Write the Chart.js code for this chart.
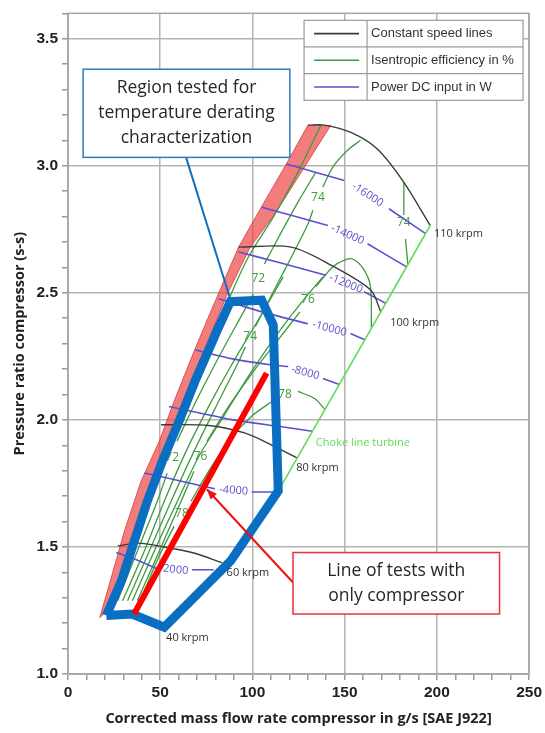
<!DOCTYPE html>
<html lang="en">
<head>
<meta charset="UTF-8">
<title>Compressor map</title>
<script src="https://cdn.jsdelivr.net/npm/chart.js@4.4.0/dist/chart.umd.min.js"></script>
<style>
    body { margin: 0; background: #fff; }
    #wrap { width: 545px; height: 733px; }
</style>
</head>
<body>
<div id="wrap"><canvas id="map" width="545" height="733"></canvas></div>
<script>
// axes
const xRange = [0, 250];
const yRange = [1.0, 3.6];

// constant speed lines, [mass flow g/s, pressure ratio]
const speed60 = [[27.0,1.504],[37.8,1.515],[52.2,1.500],[68.3,1.476],[83.5,1.438]];
const speed80 = [[50.4,1.981],[76.3,1.978],[96.1,1.948],[108.6,1.908],[124.3,1.850]];
const speed100 = [[92.5,2.680],[121.1,2.680],[142.6,2.609],[164.1,2.511],[169.6,2.425]];
const speed110 = [[130.1,3.160],[139.1,3.160],[153.4,3.131],[167.7,3.066],[182.1,2.935],[196.4,2.765]];
const speedLabels = [['40 krpm',53.2,1.144],['60 krpm',86.0,1.399],['80 krpm',123.7,1.811],['100 krpm',174.7,2.380],['110 krpm',198.4,2.733]];

// choke line turbine
const choke = [[114.0,1.720],[196.4,2.765]];

// surge band (left edge, right edge)
const surgeLeft = [[130.1,3.160],[118.3,3.006],[104.8,2.837],[92.5,2.680],[77.3,2.425],[68.3,2.269],[57.5,2.073],[49.5,1.916],[39.6,1.759],[30.6,1.563],[23.7,1.386],[17.2,1.222]];
const surgeRight = [[142.6,3.160],[126.5,2.975],[112.9,2.818],[98.8,2.680],[86.2,2.492],[78.0,2.347],[69.9,2.190],[61.8,2.033],[53.8,1.876],[45.2,1.719],[37.1,1.563],[29.0,1.406],[21.5,1.249]];

// isentropic efficiency contours (null = gap for label)
const eff70 = [[137.1,3.159],[124.7,2.975],[111.3,2.798],[97.8,2.641],[87.1,2.473],[77.4,2.308],[68.3,2.151],[59.1,1.994],[50.5,1.837],[42.5,1.680],[34.9,1.524],[28.0,1.367],[22.6,1.269]];
const eff72 = [[26.9,1.288],[38.7,1.504],[48.4,1.680],[53.8,1.790],null,[59.1,1.916],[69.9,2.080],[82.8,2.261],[95.2,2.425],[100.5,2.496],null,[106.5,2.614],[115.1,2.731],[124.7,2.857],[134.4,2.975]];
const eff73 = [[29.6,1.288],[41.4,1.484],[52.2,1.680],[64.0,1.876],[76.3,2.053],[88.2,2.210],[103.2,2.394],[116.7,2.563]];
const eff74 = [[32.3,1.288],[44.1,1.484],[55.9,1.680],[68.3,1.876],[81.7,2.073],[92.5,2.229],[96.2,2.288],null,[101.6,2.367],[111.3,2.504],[122.0,2.653],[130.1,2.771],[132.8,2.825],null,[138.2,2.916],[143.5,2.994],[151.6,3.061],[158.6,3.100]];
const eff75 = [[34.9,1.288],[46.8,1.484],[58.1,1.661],[71.0,1.857],[84.4,2.014],[97.8,2.171],[111.3,2.316],[124.7,2.445],[138.2,2.563]];
const eff76 = [[37.6,1.288],[49.5,1.484],[60.2,1.661],[68.3,1.798],null,[75.3,1.916],[87.1,2.053],[100.5,2.190],[114.0,2.316],[125.8,2.425],null,[134.4,2.524],[143.5,2.602],[150.0,2.629],[154.3,2.633],[160.2,2.594],[164.0,2.524],[164.5,2.359]];
const eff78 = [[139.3,2.041],[133.7,2.084],[124.7,2.112],null,[110.8,2.073],[99.5,2.014],[87.1,1.916],[76.3,1.798],[66.7,1.680],null,[57.5,1.582],[49.5,1.465],[41.4,1.327]];
const eff74b = [[182.1,2.935],[182.1,2.806],null,[183.0,2.712],[184.3,2.610]];
const effLabels = [['72',56.5,1.853],['72',103.2,2.555],['74',98.8,2.327],['74',135.5,2.873],['76',71.9,1.857],['76',130.1,2.473],['78',117.6,2.099],['78',61.8,1.633],['74',182.1,2.778]];

// power DC input contours
const pow16 = [[118.4,3.007],[149.8,2.942],null,[174.0,2.831],[193.9,2.733]];
const pow14 = [[105.0,2.837],[140.9,2.765],null,[162.4,2.693],[183.6,2.602]];
const pow12 = [[92.5,2.661],[115.0,2.618],[139.8,2.569],null,[160.6,2.504],[172.5,2.458]];
const pow10 = [[81.7,2.477],[104.8,2.426],[130.1,2.378],null,[153.2,2.340],[161.0,2.315]];
const pow8 = [[69.2,2.275],[88.7,2.241],[110.4,2.216],[119.4,2.210],null,[138.2,2.163],[147.2,2.139]];
const pow6 = [[54.8,2.053],[88.9,2.001],[114.0,1.975],[132.5,1.955]];
const pow4 = [[41.4,1.791],[71.0,1.743],[79.6,1.729],null,[99.6,1.716],[114.0,1.716]];
const pow2 = [[26.2,1.478],[38.7,1.445],[47.7,1.416],null,[67.2,1.410],[79.0,1.410]];
// [text, x, y, angle deg]
const powLabels = [['-16000',162.4,2.886,33],['-14000',151.6,2.729,24],['-12000',150.7,2.536,22],['-10000',141.8,2.359,15],['-8000',128.7,2.186,16],['-4000',89.8,1.722,4],['2000',58.4,1.410,6]];

// annotations
const testedRegion = [[20.8,1.230],[34.8,1.236],[52.2,1.184],[88.2,1.445],[114.0,1.720],[111.3,2.373],[105.0,2.471],[88.0,2.465],[80.6,2.347],[68.8,2.151],[60.2,1.994],[51.1,1.837],[43.0,1.680],[36.0,1.524],[29.0,1.367],[20.8,1.230]];
const testLine = [[35.8,1.236],[107.7,2.184]];
const regionCallout = [[64.0,3.033],[88.2,2.471]];
const testArrow = [[122.0,1.360],[75.3,1.727]];
const regionBox = [8.2, 3.033, 120.3, 3.380];
const regionText = ['Region tested for', 'temperature derating', 'characterization'];
const testsBox = [122.0, 1.236, 234.0, 1.478];
const testsText = ['Line of tests with', 'only compressor'];

const legendNames = ['Constant speed lines', 'Isentropic efficiency in %', 'Power DC input in W'];

const speedColor = '#3b3b3b';
const effColor = '#3f9a3f';
const powColor = '#5a50d0';
const chokeColor = '#62dc5a';
const regionColor = '#0a6fc2';
const legendColors = [speedColor, effColor, powColor];

const toXY = arr => arr.map(p => p ? {x: p[0], y: p[1]} : {x: null, y: null});

function lineSet(pts, color, width, order, tension) {
    return {
        data: toXY(pts),
        showLine: true,
        borderColor: color,
        borderWidth: width,
        pointRadius: 0,
        tension: tension || 0,
        fill: false,
        order: order
    };
}

const datasets = [
    {
        data: toXY(surgeLeft.concat(surgeRight.slice().reverse())),
        showLine: true,
        pointRadius: 0,
        borderColor: 'rgba(210,40,40,0.7)',
        borderWidth: 1,
        backgroundColor: 'rgba(238,70,70,0.7)',
        fill: 'shape',
        order: 20
    },
    lineSet(eff70, effColor, 1.3, 12, 0.3),
    lineSet(eff72, effColor, 1.3, 12, 0.3),
    lineSet(eff73, effColor, 1.3, 12, 0.3),
    lineSet(eff74, effColor, 1.3, 12, 0.3),
    lineSet(eff75, effColor, 1.3, 12, 0.3),
    lineSet(eff76, effColor, 1.3, 12, 0.3),
    lineSet(eff78, effColor, 1.3, 12, 0.3),
    lineSet(eff74b, effColor, 1.3, 12, 0.2),
    lineSet(pow16, powColor, 1.6, 11, 0.2),
    lineSet(pow14, powColor, 1.6, 11, 0.2),
    lineSet(pow12, powColor, 1.6, 11, 0.2),
    lineSet(pow10, powColor, 1.6, 11, 0.2),
    lineSet(pow8, powColor, 1.6, 11, 0.2),
    lineSet(pow6, powColor, 1.6, 11, 0.2),
    lineSet(pow4, powColor, 1.6, 11, 0.2),
    lineSet(pow2, powColor, 1.6, 11, 0.2),
    lineSet(speed60, speedColor, 1.4, 10, 0.3),
    lineSet(speed80, speedColor, 1.4, 10, 0.3),
    lineSet(speed100, speedColor, 1.4, 10, 0.3),
    lineSet(speed110, speedColor, 1.4, 10, 0.3),
    lineSet(choke, chokeColor, 1.6, 9, 0),
    Object.assign(lineSet(testedRegion, regionColor, 9, 4, 0), {borderJoinStyle: 'miter'}),
    lineSet(regionCallout, regionColor, 2, 3, 0),
    lineSet(testLine, '#ff0000', 6, 2, 0),
    Object.assign(lineSet(testArrow, '#ee1111', 2, 1, 0), {arrowHead: true})
];

function toPx(chart, x, y) {
    return [chart.scales.x.getPixelForValue(x), chart.scales.y.getPixelForValue(y)];
}

function drawBox(ctx, chart, box, lines, color) {
    const [x0, y0] = toPx(chart, box[0], box[3]);
    const [x1, y1] = toPx(chart, box[2], box[1]);
    ctx.fillStyle = '#fff';
    ctx.fillRect(x0, y0, x1 - x0, y1 - y0);
    ctx.strokeStyle = color;
    ctx.lineWidth = 1.5;
    ctx.strokeRect(x0, y0, x1 - x0, y1 - y0);
    ctx.fillStyle = '#262626';
    ctx.font = '17.5px "Open Sans"';
    ctx.textAlign = 'center';
    ctx.textBaseline = 'middle';
    const lh = 25;
    const cy = (y0 + y1) / 2 - (lines.length - 1) * lh / 2;
    lines.forEach((t, i) => ctx.fillText(t, (x0 + x1) / 2, cy + i * lh));
}

const overlay = {
    id: 'overlay',
    beforeDatasetsDraw(chart) {
        const {ctx, chartArea: a} = chart;
        ctx.save();
        ctx.strokeStyle = '#a6a6a6';
        ctx.lineWidth = 1.5;
        ctx.strokeRect(a.left, a.top, a.right - a.left, a.bottom - a.top);
        ctx.font = '12px "Open Sans"';
        ctx.fillStyle = effColor;
        ctx.textAlign = 'center';
        ctx.textBaseline = 'middle';
        effLabels.forEach(l => {
            const [x, y] = toPx(chart, l[1], l[2]);
            ctx.fillText(l[0], x, y);
        });
        ctx.restore();
    },
    afterDatasetsDraw(chart) {
        const {ctx, chartArea: a} = chart;
        ctx.save();
        // power labels
        ctx.font = '11px "Open Sans"';
        ctx.fillStyle = powColor;
        ctx.textAlign = 'center';
        ctx.textBaseline = 'middle';
        powLabels.forEach(l => {
            const [x, y] = toPx(chart, l[1], l[2]);
            ctx.save();
            ctx.translate(x, y);
            ctx.rotate(l[3] * Math.PI / 180);
            ctx.fillText(l[0], 0, 0);
            ctx.restore();
        });
        // speed labels
        ctx.fillStyle = '#333';
        ctx.textAlign = 'left';
        speedLabels.forEach(l => {
            const [x, y] = toPx(chart, l[1], l[2]);
            ctx.fillText(l[0], x, y);
        });
        // choke label
        ctx.fillStyle = chokeColor;
        const [cx, cy] = toPx(chart, 134.4, 1.909);
        ctx.fillText('Choke line turbine', cx, cy);

        // arrow heads
        chart.data.datasets.forEach((ds, i) => {
            if (!ds.arrowHead) return;
            const pts = chart.getDatasetMeta(i).data;
            const p1 = pts[pts.length - 2], p2 = pts[pts.length - 1];
            const ang = Math.atan2(p2.y - p1.y, p2.x - p1.x);
            ctx.fillStyle = ds.borderColor;
            ctx.beginPath();
            ctx.moveTo(p2.x, p2.y);
            ctx.lineTo(p2.x - 11 * Math.cos(ang - 0.4), p2.y - 11 * Math.sin(ang - 0.4));
            ctx.lineTo(p2.x - 11 * Math.cos(ang + 0.4), p2.y - 11 * Math.sin(ang + 0.4));
            ctx.closePath();
            ctx.fill();
        });

        drawBox(ctx, chart, regionBox, regionText, '#2e7bc4');
        drawBox(ctx, chart, testsBox, testsText, '#e8343a');

        // legend table
        const w = 219, h = 80, x0 = a.right - 225, y0 = a.top + 7, split = 63;
        ctx.fillStyle = '#fff';
        ctx.fillRect(x0, y0, w, h);
        ctx.strokeStyle = '#9a9a9a';
        ctx.lineWidth = 1.2;
        ctx.strokeRect(x0, y0, w, h);
        ctx.beginPath();
        ctx.moveTo(x0 + split, y0);
        ctx.lineTo(x0 + split, y0 + h);
        for (let r = 1; r < legendNames.length; r++) {
            ctx.moveTo(x0, y0 + r * h / 3);
            ctx.lineTo(x0 + w, y0 + r * h / 3);
        }
        ctx.stroke();
        ctx.font = '13px "Liberation Sans", Arial';
        ctx.textAlign = 'left';
        legendNames.forEach((name, r) => {
            const ry = y0 + (r + 0.5) * h / 3;
            ctx.strokeStyle = legendColors[r];
            ctx.lineWidth = 1.6;
            ctx.beginPath();
            ctx.moveTo(x0 + 10, ry);
            ctx.lineTo(x0 + 55, ry);
            ctx.stroke();
            ctx.fillStyle = '#333';
            ctx.fillText(name, x0 + split + 4, ry);
        });
        ctx.restore();
    }
};

const isHalf = v => Math.abs(v * 2 - Math.round(v * 2)) < 1e-6;

new Chart(document.getElementById('map'), {
    type: 'scatter',
    data: { datasets: datasets },
    options: {
        responsive: false,
        animation: false,
        devicePixelRatio: 1,
        layout: { padding: { top: 10, right: 12, left: 0, bottom: 0 } },
        plugins: { legend: { display: false }, tooltip: { enabled: false } },
        scales: {
            x: {
                type: 'linear',
                min: xRange[0],
                max: xRange[1],
                afterFit: s => { s.height = 59; },
                ticks: {
                    stepSize: 10,
                    autoSkip: false,
                    maxTicksLimit: 100,
                    maxRotation: 0,
                    padding: 3,
                    color: '#222',
                    font: { family: 'Arial', size: 15.5, weight: 'bold' },
                    callback: v => v % 50 === 0 ? String(v) : ''
                },
                grid: {
                    color: c => c.tick && c.tick.value % 50 === 0 ? '#b4b4b4' : 'rgba(0,0,0,0)',
                    lineWidth: 1.5,
                    tickColor: '#999',
                    tickLength: 6
                },
                border: { color: '#a6a6a6', width: 1.5 },
                title: {
                    display: true,
                    text: 'Corrected mass flow rate compressor in g/s [SAE J922]',
                    color: '#222',
                    font: { family: 'Open Sans', size: 14.5, weight: 'bold' },
                    padding: { top: 0, bottom: 5 }
                }
            },
            y: {
                min: yRange[0],
                max: yRange[1],
                afterFit: s => { s.width = 68; },
                ticks: {
                    stepSize: 0.1,
                    autoSkip: false,
                    maxTicksLimit: 100,
                    padding: 4,
                    color: '#222',
                    font: { family: 'Arial', size: 15.5, weight: 'bold' },
                    callback: v => isHalf(v) ? v.toFixed(1) : ''
                },
                grid: {
                    color: c => c.tick && isHalf(c.tick.value) && c.tick.value < 3.55 ? '#b4b4b4' : 'rgba(0,0,0,0)',
                    lineWidth: 1.5,
                    tickColor: '#999',
                    tickLength: 6
                },
                border: { color: '#a6a6a6', width: 1.5 },
                title: {
                    display: true,
                    text: 'Pressure ratio compressor (s-s)',
                    color: '#222',
                    font: { family: 'Open Sans', size: 14.5, weight: 'bold' },
                    padding: { top: 11, bottom: 0 }
                }
            }
        }
    },
    plugins: [overlay]
});
</script>
</body>
</html>
